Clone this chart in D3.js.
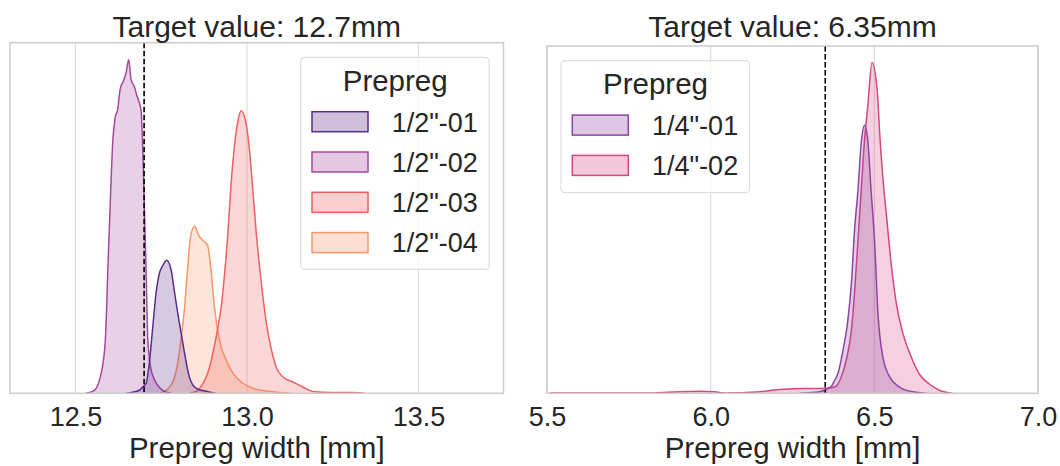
<!DOCTYPE html>
<html>
<head>
<meta charset="utf-8">
<script src="https://cdn.jsdelivr.net/npm/d3@7"></script>
<style>
  body { margin: 0; background: #fff; }
  svg { font-family: "Liberation Sans", Arial, sans-serif; }
</style>
</head>
<body>
<svg id="chart" width="1060" height="466"></svg>
<script>
// ---- données (densité KDE, unités arbitraires) ----
const leftCategories = ['1/2"-01', '1/2"-02', '1/2"-03', '1/2"-04'];
const leftColors = ['#5b2c8a', '#a5489f', '#f0605f', '#f99868'];
const leftTicks = [12.5, 13.0, 13.5];
const leftLimits = [12.309, 13.748];
const leftTarget = 12.7;

const width_12_01 = [12.648, 12.686, 12.696, 12.706, 12.716, 12.725, 12.735, 12.745, 12.755, 12.766, 12.779, 12.789, 12.798, 12.808, 12.818, 12.832, 12.852, 12.881, 12.908];
const dens_12_01 = [0, 0.12, 0.25, 0.4, 1.3, 2.6, 4.0, 4.8, 5.1, 5.3, 4.9, 4.0, 3.2, 2.4, 1.6, 0.65, 0.2, 0.08, 0];

const width_12_02 = [12.53, 12.555, 12.575, 12.587, 12.594, 12.601, 12.609, 12.616, 12.623, 12.630, 12.640, 12.648, 12.655, 12.662, 12.672, 12.679, 12.691, 12.698, 12.706, 12.711, 12.723, 12.754, 12.78];
const dens_12_02 = [0, 0.12, 0.8, 2.12, 4.8, 7.44, 10.1, 11.0, 11.3, 12.1, 12.45, 12.8, 13.3, 12.5, 12.2, 11.85, 11.3, 8.8, 4.8, 2.1, 0.8, 0.12, 0];

const width_12_03 = [12.832, 12.850, 12.862, 12.881, 12.894, 12.905, 12.915, 12.925, 12.935, 12.944, 12.954, 12.964, 12.973, 12.983, 12.998, 13.008, 13.017, 13.027, 13.037, 13.046, 13.056, 13.071, 13.085, 13.105, 13.134, 13.163, 13.192, 13.250, 13.308, 13.343];
const dens_12_03 = [0, 0.06, 0.2, 0.64, 1.2, 1.9, 2.6, 3.45, 4.8, 6.3, 8.4, 9.9, 10.8, 11.25, 10.7, 9.6, 8.1, 6.4, 5.0, 3.9, 2.85, 1.75, 1.05, 0.65, 0.45, 0.25, 0.07, 0.03, 0.03, 0];

const width_12_04 = [12.745, 12.759, 12.774, 12.789, 12.798, 12.808, 12.818, 12.827, 12.835, 12.847, 12.859, 12.871, 12.885, 12.896, 12.905, 12.920, 12.940, 12.959, 12.988, 13.017, 13.075, 13.124];
const dens_12_04 = [0, 0.08, 0.24, 0.64, 1.2, 2.2, 3.4, 5.0, 6.2, 6.65, 6.3, 6.1, 5.9, 4.8, 3.45, 2.1, 1.3, 0.8, 0.4, 0.2, 0.06, 0];

const rightCategories = ['1/4"-01', '1/4"-02'];
const rightColors = ['#8f44a5', '#d6467f'];
const rightTicks = [5.5, 6.0, 6.5, 7.0];
const rightLimits = [5.5, 7.0];
const rightTarget = 6.35;

const width_14_01 = [6.272, 6.333, 6.353, 6.369, 6.379, 6.389, 6.404, 6.419, 6.430, 6.440, 6.450, 6.460, 6.470, 6.480, 6.490, 6.501, 6.511, 6.526, 6.547, 6.577, 6.618, 6.659];
const dens_14_01 = [0, 0.06, 0.16, 0.28, 0.52, 0.8, 1.7, 2.9, 4.4, 6.6, 8.1, 10.0, 10.7, 10.1, 8.1, 6.0, 3.2, 1.45, 0.65, 0.25, 0.06, 0];

const width_14_02 = [5.508, 5.804, 5.884, 5.966, 6.012, 6.048, 6.140, 6.211, 6.292, 6.342, 6.364, 6.379, 6.399, 6.414, 6.430, 6.440, 6.450, 6.460, 6.470, 6.480, 6.493, 6.509, 6.516, 6.526, 6.537, 6.552, 6.567, 6.587, 6.613, 6.638, 6.669, 6.699, 6.739];
const dens_14_02 = [0.01, 0.01, 0.05, 0.08, 0.06, 0.01, 0.05, 0.15, 0.19, 0.19, 0.22, 0.25, 0.65, 1.32, 2.52, 4.1, 6.1, 8.1, 10.1, 11.45, 13.2, 12.05, 10.45, 8.6, 7.1, 5.1, 3.6, 2.4, 1.44, 0.76, 0.36, 0.12, 0];

const textColor = '#262626';
const svg = d3.select('#chart');

function zipSeries(xs, ys) {
    return xs.map((x, i) => ({ x: x, y: ys[i] }));
}

function drawPanel(p) {
    const x = d3.scaleLinear().domain(p.limits).range([p.left, p.right]);
    const maxDens = d3.max(p.series, s => d3.max(s.values, d => d.y));
    const y = d3.scaleLinear().domain([0, maxDens * 1.05]).range([p.bottom, p.top]);

    const g = svg.append('g');

    // grille verticale
    g.selectAll('.grid')
        .data(p.ticks)
        .join('line')
        .attr('x1', d => x(d)).attr('x2', d => x(d))
        .attr('y1', p.top).attr('y2', p.bottom)
        .attr('stroke', '#dcdcdc')
        .attr('stroke-width', 1.2);

    // axe x (labels seulement)
    const axis = d3.axisBottom(x).tickValues(p.ticks).tickFormat(d3.format('.1f')).tickSize(0).tickPadding(0);
    const ax = g.append('g').attr('transform', `translate(0,${p.bottom})`).call(axis);
    ax.select('.domain').remove();
    ax.selectAll('text')
        .attr('y', 32.5)
        .attr('dy', null)
        .attr('font-size', 27)
        .attr('font-family', '"Liberation Sans", Arial, sans-serif')
        .attr('fill', textColor);

    // courbes de densité (dernier niveau dessiné en premier)
    const area = d3.area().x(d => x(d.x)).y0(y(0)).y1(d => y(d.y)).curve(d3.curveMonotoneX);
    const line = d3.line().x(d => x(d.x)).y(d => y(d.y)).curve(d3.curveMonotoneX);

    const clipId = 'clip' + p.left;
    svg.append('clipPath').attr('id', clipId)
        .append('rect').attr('x', p.left).attr('y', p.top)
        .attr('width', p.right - p.left).attr('height', p.bottom - p.top);

    const curves = g.append('g').attr('clip-path', `url(#${clipId})`);
    p.series.slice().reverse().forEach(s => {
        curves.append('path').datum(s.values)
            .attr('d', area)
            .attr('fill', s.color)
            .attr('fill-opacity', 0.25);
        curves.append('path').datum(s.values)
            .attr('d', line)
            .attr('fill', 'none')
            .attr('stroke', s.color)
            .attr('stroke-width', 1.5);
    });

    // valeur cible
    g.append('line')
        .attr('x1', x(p.target)).attr('x2', x(p.target))
        .attr('y1', p.top).attr('y2', p.bottom)
        .attr('stroke', '#000')
        .attr('stroke-width', 1.6)
        .attr('stroke-dasharray', '5.5,2.5');

    // cadre
    g.append('rect')
        .attr('x', p.left).attr('y', p.top)
        .attr('width', p.right - p.left).attr('height', p.bottom - p.top)
        .attr('fill', 'none')
        .attr('stroke', '#cccccc')
        .attr('stroke-width', 1.5);

    // titre et label
    g.append('text')
        .attr('x', (p.left + p.right) / 2).attr('y', 37.3)
        .attr('text-anchor', 'middle')
        .attr('font-size', 30)
        .attr('fill', textColor)
        .text(p.title);
    g.append('text')
        .attr('x', (p.left + p.right) / 2).attr('y', 458)
        .attr('text-anchor', 'middle')
        .attr('font-size', 29.5)
        .attr('fill', textColor)
        .text('Prepreg width [mm]');

    // légende
    const lg = g.append('g').attr('transform', `translate(${p.legendX},${p.legendY})`);
    lg.append('rect')
        .attr('width', 188.5)
        .attr('height', 52 + p.series.length * 40)
        .attr('rx', 4)
        .attr('fill', '#fff').attr('fill-opacity', 0.8)
        .attr('stroke', '#dedede').attr('stroke-width', 1.2);
    lg.append('text')
        .attr('x', 94.5).attr('y', 33.4)
        .attr('text-anchor', 'middle')
        .attr('font-size', 29.5)
        .attr('fill', textColor)
        .text('Prepreg');
    const items = lg.selectAll('.item')
        .data(p.series)
        .join('g')
        .attr('transform', (d, i) => `translate(0,${64.4 + i * 40.3})`);
    items.append('rect')
        .attr('x', 11.3).attr('y', -10)
        .attr('width', 56).attr('height', 20)
        .attr('fill', d => d3.interpolateRgb('#ffffff', d.color)(0.3))
        .attr('stroke', d => d.color)
        .attr('stroke-width', 1.5);
    items.append('text')
        .attr('x', 91).attr('y', 9.8)
        .attr('font-size', 27)
        .attr('fill', textColor)
        .text(d => d.name);
}

drawPanel({
    left: 10, right: 503.5, top: 42.7, bottom: 393.3,
    limits: leftLimits, ticks: leftTicks, target: leftTarget,
    title: 'Target value: 12.7mm',
    legendX: 300.7, legendY: 57.3,
    series: [
        { name: leftCategories[0], color: leftColors[0], values: zipSeries(width_12_01, dens_12_01) },
        { name: leftCategories[1], color: leftColors[1], values: zipSeries(width_12_02, dens_12_02) },
        { name: leftCategories[2], color: leftColors[2], values: zipSeries(width_12_03, dens_12_03) },
        { name: leftCategories[3], color: leftColors[3], values: zipSeries(width_12_04, dens_12_04) }
    ]
});

drawPanel({
    left: 547, right: 1038, top: 46, bottom: 393.3,
    limits: rightLimits, ticks: rightTicks, target: rightTarget,
    title: 'Target value: 6.35mm',
    legendX: 561, legendY: 60.7,
    series: [
        { name: rightCategories[0], color: rightColors[0], values: zipSeries(width_14_01, dens_14_01) },
        { name: rightCategories[1], color: rightColors[1], values: zipSeries(width_14_02, dens_14_02) }
    ]
});
</script>
</body>
</html>
